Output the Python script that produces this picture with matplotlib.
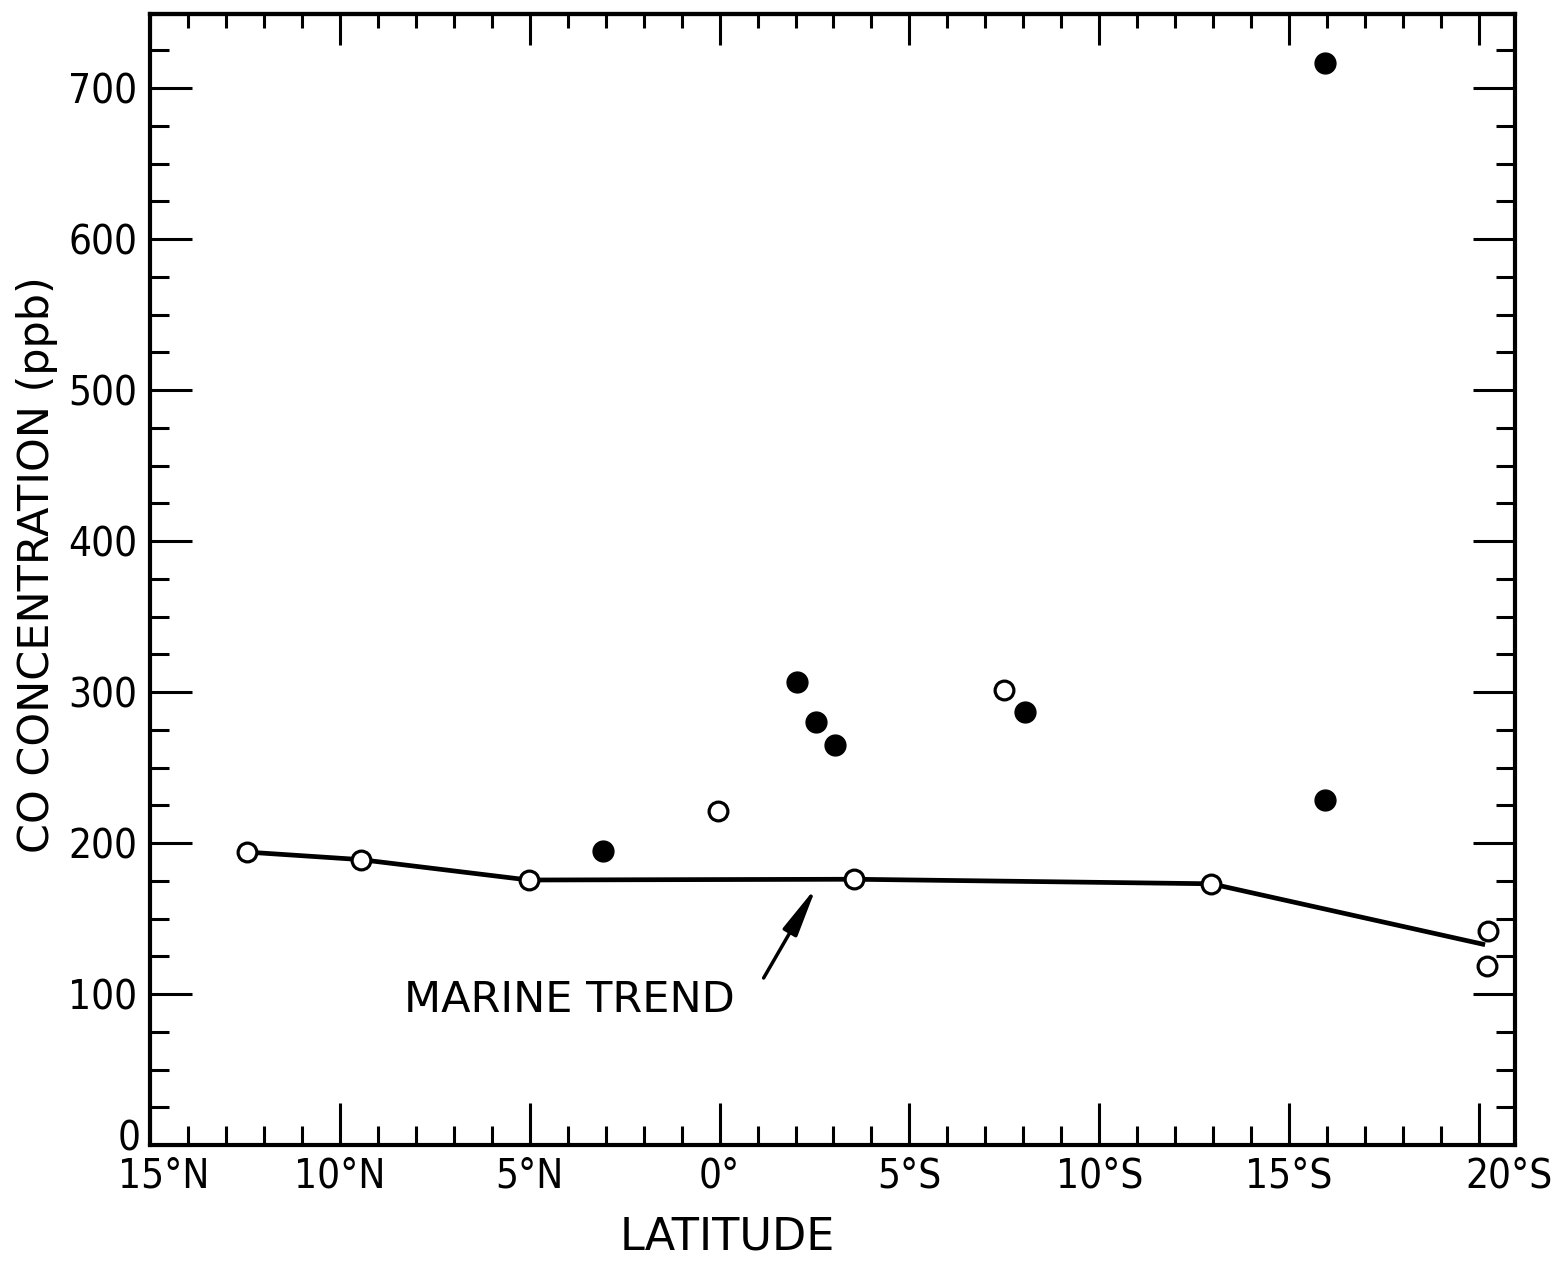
import matplotlib
matplotlib.use("Agg")
import matplotlib.pyplot as plt
from matplotlib import font_manager
from matplotlib.ticker import MultipleLocator, FixedLocator
from matplotlib.transforms import ScaledTranslation

# ---- data (latitude in degrees, south positive, north negative) ----
trend_lat = [-12.45, -9.45, -5.03, 3.55, 12.95, 20.1]
trend_co = [194, 189, 175.5, 176, 173, 133]

open_lat = [-12.45, -9.45, -5.03, -0.03, 3.55, 7.5, 12.95, 20.25, 20.2]
open_co = [194, 189, 175.5, 221, 176, 301, 173, 142, 118.5]

filled_lat = [-3.08, 2.03, 2.55, 3.03, 8.05, 15.95, 15.95]
filled_co = [194.7, 306.6, 280, 265, 286.8, 228.5, 716.6]

xtick_vals = [-15, -10, -5, 0, 5, 10, 15, 20]
xtick_labels = ["15°N", "10°N", "5°N", "0°", "5°S", "10°S", "15°S", "20°S"]
ytick_vals = [0, 100, 200, 300, 400, 500, 600, 700]
ytick_labels = ["0", "100", "200", "300", "400", "500", "600", "700"]

# ---- fonts ----
names = {f.name for f in font_manager.fontManager.ttflist}
if "Liberation Sans Narrow" in names:
    tick_font = dict(family="Liberation Sans Narrow")
elif "DejaVu Sans Condensed" in names:
    tick_font = dict(family="DejaVu Sans Condensed")
else:
    tick_font = dict(family="DejaVu Sans", stretch="condensed")
label_font = dict(family="DejaVu Sans")

fig = plt.figure(figsize=(15.56, 12.62), dpi=100)
ax = fig.add_axes([0.0964, 0.0927, 0.9737 - 0.0964, 0.9889 - 0.0927])

ax.plot(trend_lat, trend_co, color="black", lw=3.4, zorder=2)
ax.plot(open_lat, open_co, linestyle="none", marker="o", markersize=13.5,
        markerfacecolor="white", markeredgecolor="black", markeredgewidth=2.3, zorder=3)
ax.plot(filled_lat, filled_co, linestyle="none", marker="o", markersize=15,
        markerfacecolor="black", markeredgecolor="black", zorder=3)

ax.set_xlim(-15, 20.95)
ax.set_ylim(0, 749)

ax.xaxis.set_major_locator(FixedLocator(xtick_vals))
ax.set_xticklabels(xtick_labels, fontsize=29, **tick_font)
ax.xaxis.set_minor_locator(MultipleLocator(1))
ax.yaxis.set_major_locator(FixedLocator(ytick_vals))
ax.set_yticklabels(ytick_labels, fontsize=29, **tick_font)
ax.yaxis.set_minor_locator(MultipleLocator(25))

ax.tick_params(axis="both", which="both", direction="in", width=2.2, color="black")
ax.tick_params(axis="both", which="major", length=30)
ax.tick_params(axis="both", which="minor", length=14)
ax.tick_params(axis="y", which="both", left=True, right=True)
ax.tick_params(axis="x", which="both", bottom=True, top=False, pad=8)
ax.tick_params(axis="y", which="major", pad=9)

top = ax.secondary_xaxis("top")
top.xaxis.set_major_locator(FixedLocator(xtick_vals))
top.xaxis.set_minor_locator(MultipleLocator(1))
top.tick_params(which="both", direction="in", width=2.2, labeltop=False)
top.tick_params(which="major", length=22)
top.tick_params(which="minor", length=10)
top.spines["top"].set_linewidth(3)

for s in ax.spines.values():
    s.set_linewidth(3)

# shift end labels as in reference
lbls = ax.get_xticklabels()
lbls[0].set_transform(lbls[0].get_transform() + ScaledTranslation(0.14, 0, fig.dpi_scale_trans))
lbls[-1].set_transform(lbls[-1].get_transform() + ScaledTranslation(0.30, 0, fig.dpi_scale_trans))
ylbls = ax.get_yticklabels()
ylbls[0].set_transform(ylbls[0].get_transform() + ScaledTranslation(0.03, 0.1, fig.dpi_scale_trans))

ax.set_xlabel("LATITUDE", fontsize=32, labelpad=14, x=0.4227, **label_font)
ax.set_ylabel("CO CONCENTRATION (ppb)", fontsize=31, va="center", **label_font)
ax.yaxis.set_label_coords(-0.083, 0.513)

ax.text(-3.95, 96, "MARINE TREND", ha="center", va="center", fontsize=31, **label_font)
ax.annotate("", xy=(2.55, 171), xytext=(1.16, 110.6),
            arrowprops=dict(arrowstyle="-|>,head_length=1.0,head_width=0.16",
                            lw=2.5, color="black", mutation_scale=30, shrinkA=0, shrinkB=0))

fig.savefig("out.png", dpi=100)
